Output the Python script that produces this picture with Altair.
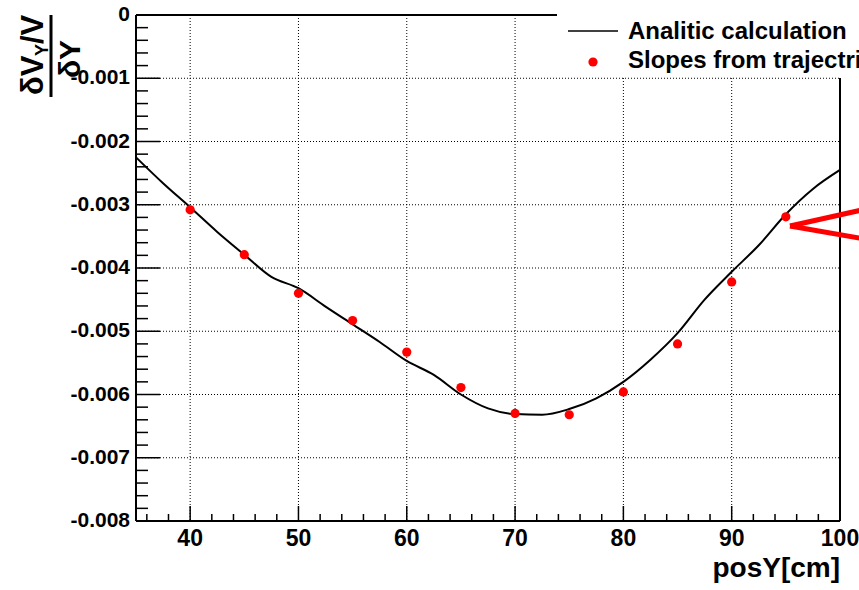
import altair as alt
import pandas as pd

# ---------------- data ----------------
curve_pos = [35, 37.5, 40, 42.5, 45, 47.5, 50, 52.5, 55, 57.5, 60, 62.5, 65, 67.5,
             70, 72.5, 75, 77.5, 80, 82.5, 85, 87.5, 90, 92.5, 95, 97.5, 100]
curve_val = [-0.00225, -0.00266, -0.00304, -0.00343, -0.00379, -0.00414, -0.00432,
             -0.00461, -0.00489, -0.00517, -0.00547, -0.00569, -0.00600, -0.00622,
             -0.00631, -0.00632, -0.00623, -0.00606, -0.00580, -0.00545, -0.00503,
             -0.00450, -0.00406, -0.00364, -0.00315, -0.00275, -0.00245]

point_pos = [40, 45, 50, 55, 60, 65, 70, 75, 80, 85, 90, 95]
point_val = [-0.00308, -0.00379, -0.00440, -0.00483, -0.00533, -0.00589,
             -0.00630, -0.00632, -0.00596, -0.00520, -0.00422, -0.00319]

x_major = [40, 50, 60, 70, 80, 90, 100]
x_labels = ["40", "50", "60", "70", "80", "90", "100"]
x_minor = [36, 38, 42, 44, 46, 48, 52, 54, 56, 58, 62, 64, 66, 68, 72, 74, 76, 78,
           82, 84, 86, 88, 92, 94, 96, 98]
y_major = [0, -0.001, -0.002, -0.003, -0.004, -0.005, -0.006, -0.007, -0.008]
y_labels = ["0", "-0.001", "-0.002", "-0.003", "-0.004", "-0.005", "-0.006", "-0.007", "-0.008"]
y_minor = [round(m - k * 0.0002, 5) for m in y_major[:-1] for k in range(1, 5)]
x_grid = [40, 50, 60, 70, 80, 90]
y_grid = [-0.001, -0.002, -0.003, -0.004, -0.005, -0.006, -0.007]

legend_labels = ["Analitic calculation", "Slopes from trajectries"]
x_title = "posY[cm]"

W, H = 704, 506
FONT = "Liberation Sans"

xs = alt.Scale(domain=[35, 100], nice=False, zero=False)
ys = alt.Scale(domain=[-0.008, 0], nice=False, zero=False)

one = pd.DataFrame({"a": [0]})

curve_df = pd.DataFrame({"x": curve_pos, "y": curve_val})
pts_df = pd.DataFrame({"x": point_pos, "y": point_val})


def X(f):
    return alt.X(f, scale=xs, axis=None)


def Y(f):
    return alt.Y(f, scale=ys, axis=None)


# grid (dotted)
grid_x = alt.Chart(pd.DataFrame({"v": x_grid})).mark_rule(
    color="black", strokeWidth=1, strokeDash=[1, 2]).encode(
    x=X("v:Q"), y=alt.value(0), y2=alt.value(H))
grid_y = alt.Chart(pd.DataFrame({"v": y_grid})).mark_rule(
    color="black", strokeWidth=1, strokeDash=[1, 2]).encode(
    y=Y("v:Q"), x=alt.value(0), x2=alt.value(W))

curve = alt.Chart(curve_df).mark_line(color="black", strokeWidth=2, interpolate="monotone").encode(
    x=X("x:Q"), y=Y("y:Q"))

points = alt.Chart(pts_df).mark_point(filled=True, color="#ff0000", size=85, opacity=1).encode(
    x=X("x:Q"), y=Y("y:Q"))

# tick labels
xlab = alt.Chart(pd.DataFrame({"v": x_major, "t": x_labels})).mark_text(
    font=FONT, fontSize=23, fontWeight="bold", align="center", baseline="top", color="black").encode(
    x=X("v:Q"), y=alt.value(H + 7), text="t:N")
ylab = alt.Chart(pd.DataFrame({"v": y_major, "t": y_labels})).mark_text(
    font=FONT, fontSize=21, fontWeight="bold", align="right", baseline="middle", color="black").encode(
    y=Y("v:Q"), x=alt.value(-6), text="t:N")

# legend box (covers frame / grid in the top-right corner)
legend_box = alt.Chart(one).mark_rect(fill="white").encode(
    x=alt.value(421), x2=alt.value(760), y=alt.value(-20), y2=alt.value(62))
legend_line = alt.Chart(one).mark_rule(color="black", strokeWidth=1.6).encode(
    x=alt.value(432), x2=alt.value(482), y=alt.value(16))
legend_dot = alt.Chart(one).mark_point(filled=True, color="#ff0000", size=85, opacity=1).encode(
    x=alt.value(457), y=alt.value(47))
legend_t1 = alt.Chart(one).mark_text(font=FONT, fontSize=24, fontWeight="bold", align="left",
                                     baseline="alphabetic", color="black").encode(
    x=alt.value(492), y=alt.value(24), text=alt.value(legend_labels[0]))
legend_t2 = alt.Chart(one).mark_text(font=FONT, fontSize=24, fontWeight="bold", align="left",
                                     baseline="alphabetic", color="black").encode(
    x=alt.value(492), y=alt.value(53), text=alt.value(legend_labels[1]))

# frame
frame_left = alt.Chart(one).mark_rule(color="black", strokeWidth=2).encode(
    x=alt.value(0), y=alt.value(0), y2=alt.value(H))
frame_bottom = alt.Chart(one).mark_rule(color="black", strokeWidth=2).encode(
    x=alt.value(0), x2=alt.value(W), y=alt.value(H))
frame_top = alt.Chart(one).mark_rule(color="black", strokeWidth=2).encode(
    x=alt.value(0), x2=alt.value(421), y=alt.value(0))
frame_right = alt.Chart(one).mark_rule(color="black", strokeWidth=2).encode(
    x=alt.value(W), y=alt.value(63), y2=alt.value(H))

# inward ticks
yt_major = alt.Chart(pd.DataFrame({"v": y_major})).mark_rule(color="black", strokeWidth=1.5).encode(
    y=Y("v:Q"), x=alt.value(0), x2=alt.value(24))
yt_minor = alt.Chart(pd.DataFrame({"v": y_minor})).mark_rule(color="black", strokeWidth=1.5).encode(
    y=Y("v:Q"), x=alt.value(0), x2=alt.value(12))
xt_major = alt.Chart(pd.DataFrame({"v": x_major})).mark_rule(color="black", strokeWidth=1.5).encode(
    x=X("v:Q"), y=alt.value(H), y2=alt.value(H - 15))
xt_minor = alt.Chart(pd.DataFrame({"v": x_minor})).mark_rule(color="black", strokeWidth=1.5).encode(
    x=X("v:Q"), y=alt.value(H), y2=alt.value(H - 7))

# x title
xtitle = alt.Chart(one).mark_text(font=FONT, fontSize=28, fontWeight="bold", align="right",
                                  baseline="alphabetic", color="black").encode(
    x=alt.value(W), y=alt.value(562), text=alt.value(x_title))


# y title  (δV_Y/V over δY), rotated
def ytext(txt, x, y, size, align="left"):
    return alt.Chart(one).mark_text(font=FONT, fontSize=size, fontWeight="bold", align=align,
                                    baseline="alphabetic", angle=270, color="black").encode(
        x=alt.value(x), y=alt.value(y), text=alt.value(txt))


yt1 = ytext("δV", -93, 80, 31)
yt2 = ytext("Y", -88, 41, 18)
yt3 = ytext("/V", -93, 29, 31)
ybar = alt.Chart(one).mark_rule(color="black", strokeWidth=3).encode(
    x=alt.value(-85), y=alt.value(0), y2=alt.value(82))
yt4 = ytext("δY", -56, 44, 30, align="center")

# red arrow annotation
arrow1 = alt.Chart(one).mark_rule(color="#ff0000", strokeWidth=5).encode(
    x=alt.value(735), x2=alt.value(654), y=alt.value(193), y2=alt.value(211))
arrow2 = alt.Chart(one).mark_rule(color="#ff0000", strokeWidth=5).encode(
    x=alt.value(654), x2=alt.value(735), y=alt.value(211), y2=alt.value(225))

chart = alt.layer(
    grid_x, grid_y, curve, points, xlab, ylab,
    legend_box, legend_line, legend_dot, legend_t1, legend_t2,
    frame_left, frame_bottom, frame_top, frame_right,
    yt_major, yt_minor, xt_major, xt_minor,
    xtitle, yt1, yt2, yt3, ybar, yt4, arrow1, arrow2,
).properties(
    width=W, height=H,
    autosize=alt.AutoSizeParams(type="none"),
    padding={"left": 136, "top": 15, "right": 19, "bottom": 69},
    background="white",
).configure_view(stroke="transparent")

chart.save("out.html", embed_options={"renderer": "svg", "actions": False})
